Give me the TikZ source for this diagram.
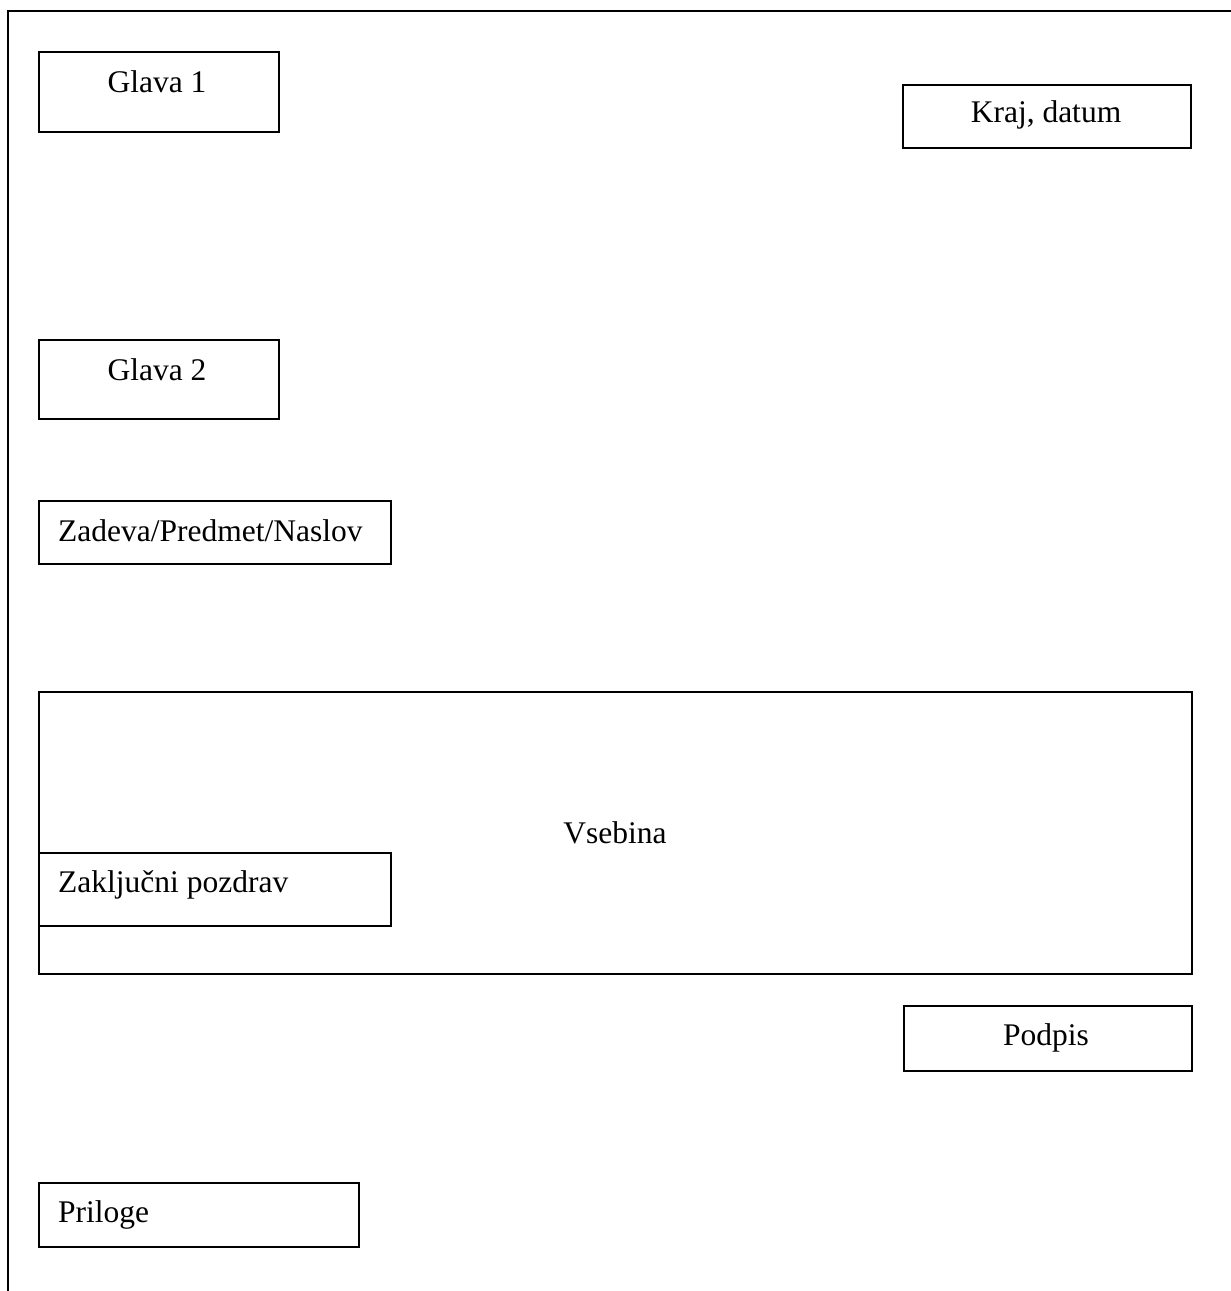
\documentclass[tikz,border=0pt]{standalone}
\usepackage{fontspec}
\setmainfont{Liberation Serif}
\begin{document}
\begin{tikzpicture}[x=1pt,y=-1pt,
  frame/.style={line width=2.4pt},
  bx/.style={draw,line width=1.8pt,fill=white,inner sep=0pt,anchor=north west},
  lbl/.style={inner sep=0pt,font=\fontsize{31.5}{36}\selectfont}]
\useasboundingbox (0,0) rectangle (1231,1291);
\coordinate (fb) at (8,1291);
\coordinate (fc) at (8,11);
\coordinate (fr) at (1231,11);
\draw[frame] (fb) -- (fc) -- (fr);
% boxes
\node[bx,minimum width=240pt,minimum height=80pt] (g1) at (38,51) {};
\node[lbl,anchor=base] (g1t) at (157,92) {Glava 1};
\node[bx,minimum width=288pt,minimum height=63pt] (kd) at (902,84) {};
\node[lbl,anchor=base] (kdt) at (1046,122) {Kraj, datum};
\node[bx,minimum width=240pt,minimum height=79pt] (g2) at (38,339) {};
\node[lbl,anchor=base] (g2t) at (157,380) {Glava 2};
\node[bx,minimum width=352pt,minimum height=63pt] (zd) at (38,500) {};
\node[lbl,anchor=base west] (zdt) at (58,541) {Zadeva/Predmet/Naslov};
\node[bx,minimum width=1153pt,minimum height=282pt] (vs) at (38,691) {};
\node[lbl,anchor=base] (vst) at (615,843) {Vsebina};
\node[bx,minimum width=352pt,minimum height=73pt] (zp) at (38,852) {};
\node[lbl,anchor=base west] (zpt) at (58,892) {Zaklju\v{c}ni pozdrav};
\node[bx,minimum width=288pt,minimum height=65pt] (pd) at (903,1005) {};
\node[lbl,anchor=base] (pdt) at (1046,1045) {Podpis};
\node[bx,minimum width=320pt,minimum height=64pt] (pr) at (38,1182) {};
\node[lbl,anchor=base west] (prt) at (58,1222) {Priloge};
\end{tikzpicture}
\end{document}
